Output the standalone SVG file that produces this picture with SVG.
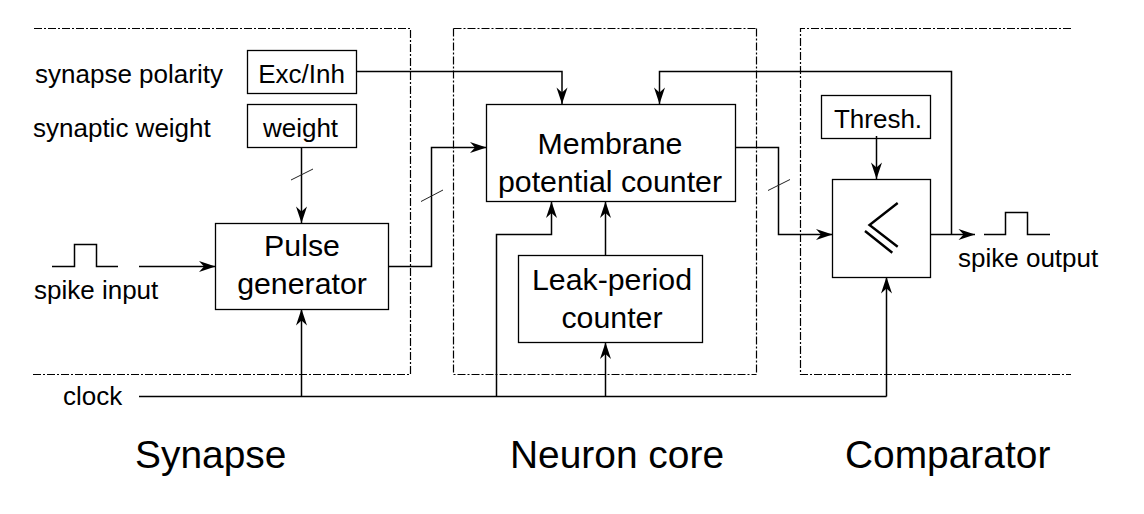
<svg xmlns="http://www.w3.org/2000/svg" width="1144" height="514" viewBox="0 0 1144 514">
<style>
text{font-family:"Liberation Sans",Arial,sans-serif;fill:#000;white-space:pre}
.m{font-size:26px}
.b{font-size:30.3px;text-anchor:middle}
.s{font-size:26px;text-anchor:middle}
.t{font-size:38.9px}
.box{fill:none;stroke:#000;stroke-width:1.3}
.w{fill:none;stroke:#000;stroke-width:1.5}
.a{marker-end:url(#ah)}
.sl{fill:none;stroke:#222;stroke-width:1}
.d{fill:none;stroke:#000;stroke-width:1.2;stroke-dasharray:8 2 2 2}
.sym{fill:none;stroke:#000;stroke-width:2.4}
</style>
<defs>
<marker id="ah" markerUnits="userSpaceOnUse" viewBox="-17 -7 18 14" refX="0" refY="0" markerWidth="18" markerHeight="14" orient="auto">
<path d="M0,0 L-16.5,-5.5 L-11.5,0 L-16.5,5.5 Z" fill="#000"/>
</marker>
</defs>
<rect width="1144" height="514" fill="#fff"/>
<g id="regions">
<path class="d" d="M34,28.5H410.5V374.5H33"/>
<path class="d" d="M453.5,28.5H756.5M453.5,28.5V374.5H756.5M756.5,28.5V374.5"/>
<path class="d" d="M1071,28.5H800.5V374.5H1071"/>
</g>
<g id="connectors">
<path class="w a" d="M356.5,71.5H562V104"/>
<path class="w a" d="M301.5,147.5V223"/>
<path class="w a" d="M139,266.5H215.5"/>
<path class="w a" d="M388.5,266.5H431.5V147.5H486.5"/>
<path class="w" d="M139,396.5H886.5"/>
<path class="w a" d="M301.5,396.5V309"/>
<path class="w a" d="M496.5,396.5V234.5H551.5V201.5"/>
<path class="w a" d="M605.5,396.5V342.5"/>
<path class="w a" d="M605.5,255V201.5"/>
<path class="w a" d="M886.5,396.5V277"/>
<path class="w a" d="M735.5,147.5H778.5V234.5H832.5"/>
<path class="w a" d="M876.5,136V179"/>
<path class="w a" d="M930.5,234.5H975"/>
<path class="w a" d="M951.5,234.5V71.5H659.5V104"/>
<path class="sl" d="M291,180L313,169"/>
<path class="sl" d="M421,201.5L443,190"/>
<path class="sl" d="M768,190.5L790,179.5"/>
<path class="w" d="M52,266.5H74.5V244.5H96.5V266.5H118"/>
<path class="w" d="M984,234.5H1005.5V212.5H1027.5V234.5H1050"/>
</g>
<g id="labels">
<text class="m" x="35" y="83">synapse polarity</text>
<text class="m" x="33" y="137">synaptic weight</text>
<text class="m" x="34" y="299">spike input</text>
<text class="m" x="63" y="405">clock</text>
<text class="m" x="958" y="267">spike output</text>
</g>
<g id="exc-inh"><rect class="box" x="247.5" y="50.5" width="109" height="43"/><text class="s" x="301.5" y="83">Exc/Inh</text></g>
<g id="weight"><rect class="box" x="247.5" y="104.5" width="109" height="43"/><text class="s" x="300.5" y="137">weight</text></g>
<g id="pulse-generator"><rect class="box" x="215.5" y="223.5" width="173" height="86"/><text class="b" x="302" y="256">Pulse</text><text class="b" x="302" y="294">generator</text></g>
<g id="membrane-counter"><rect class="box" x="486.5" y="104.5" width="249" height="97"/><text class="b" x="610" y="154">Membrane</text><text class="b" x="610" y="192">potential counter</text></g>
<g id="leak-counter"><rect class="box" x="518.5" y="255.5" width="184" height="87"/><text class="b" x="612" y="290">Leak-period</text><text class="b" x="612" y="328">counter</text></g>
<g id="threshold"><rect class="box" x="821.5" y="95.5" width="109" height="43"/><text class="s" x="878" y="128">Thresh.</text></g>
<g id="comparator"><rect class="box" x="832.5" y="179.5" width="98" height="98"/><path class="sym" d="M897.7,203L869.5,225L897.7,246.7M865,231L892.3,252.7"/></g>
<g id="titles">
<text class="t" x="135" y="468">Synapse</text>
<text class="t" x="510" y="468">Neuron core</text>
<text class="t" x="845" y="468">Comparator</text>
</g>
</svg>
